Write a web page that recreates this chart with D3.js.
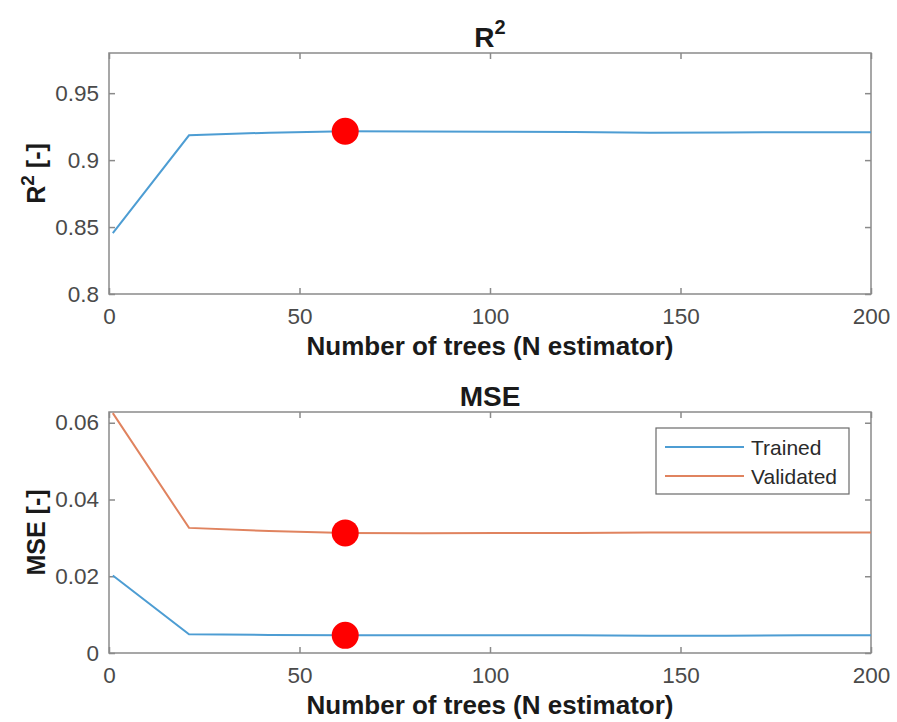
<!DOCTYPE html>
<html>
<head>
<meta charset="utf-8">
<script src="https://cdn.jsdelivr.net/npm/d3@7"></script>
<style>
  body { margin: 0; background: #fff; }
  text { font-family: "Liberation Sans", Arial, sans-serif; }
</style>
</head>
<body>
<div id="chart"></div>
<script>
// Width and height
var w = 897, h = 722;

// Data
var nTrees = [1, 21, 42, 62, 82, 102, 122, 142, 162, 182, 200];
var r2Values = [0.8455, 0.9185, 0.9205, 0.9215, 0.9213, 0.9212, 0.921, 0.9205, 0.9207, 0.9208, 0.9208];
var mseTrained = [0.0202, 0.0049, 0.0047, 0.0046, 0.0046, 0.0046, 0.0046, 0.0045, 0.0045, 0.0046, 0.0046];
var mseValidated = [0.0625, 0.0326, 0.0318, 0.0313, 0.0312, 0.0313, 0.0313, 0.0314, 0.0314, 0.0314, 0.0314];
var bestIndex = 3; // red markers at N = 62
var xTicks = [0, 50, 100, 150, 200];
var r2Ticks = [0.8, 0.85, 0.9, 0.95];
var mseTicks = [0, 0.02, 0.04, 0.06];
var legendNames = ["Trained", "Validated"];

var blue = "#4d9dd3", orange = "#e0835f";

var svg = d3.select("#chart")
            .append("svg")
            .attr("width", w)
            .attr("height", h);

var left = 109, right = 871;

// Shared x scale
var x = d3.scaleLinear().domain([0, 200]).range([left, right]);

// Panel scales
var yTop = d3.scaleLinear().domain([0.8, 0.98]).range([294, 53]);
var yBot = d3.scaleLinear().domain([0, 0.0628]).range([653, 412]);

function drawPanel(y, yTicks, yFmt, title, sup, ylabel, ysup, labelX) {
  var g = svg.append("g");
  var top = y.range()[1], bottom = y.range()[0];

  // Box
  g.append("rect")
    .attr("x", left).attr("y", top)
    .attr("width", right - left).attr("height", bottom - top)
    .attr("fill", "none").attr("stroke", "#8a8a8a").attr("stroke-width", 1.5);

  // Axes on all four sides, ticks inside
  var xb = g.append("g").attr("transform", "translate(0," + bottom + ")")
    .call(d3.axisBottom(x).tickValues(xTicks).tickSizeInner(-6).tickSizeOuter(0).tickPadding(14));
  var xt = g.append("g").attr("transform", "translate(0," + top + ")")
    .call(d3.axisTop(x).tickValues(xTicks).tickSizeInner(-6).tickSizeOuter(0).tickFormat(""));
  var yl = g.append("g").attr("transform", "translate(" + left + ",0)")
    .call(d3.axisLeft(y).tickValues(yTicks).tickFormat(yFmt).tickSizeInner(-6).tickSizeOuter(0).tickPadding(10));
  var yr = g.append("g").attr("transform", "translate(" + right + ",0)")
    .call(d3.axisRight(y).tickValues(yTicks).tickSizeInner(-6).tickSizeOuter(0).tickFormat(""));

  [xb, xt, yl, yr].forEach(function(a) {
    a.select(".domain").remove();
    a.selectAll("line").attr("stroke", "#8a8a8a").attr("stroke-width", 1.5);
    a.selectAll("text").attr("fill", "#4a4a4a").style("font-size", "22.5px");
  });

  // Title
  var t = g.append("text")
    .attr("x", (left + right) / 2).attr("y", top - 6)
    .attr("text-anchor", "middle")
    .style("font-size", "28px").style("font-weight", "bold").attr("fill", "#1a1a1a");
  t.append("tspan").text(title);
  if (sup) t.append("tspan").text(sup).attr("dy", -13).style("font-size", "20px");

  // X label
  g.append("text")
    .attr("x", (left + right) / 2).attr("y", bottom + 61)
    .attr("text-anchor", "middle")
    .style("font-size", "26px").style("font-weight", "bold").attr("fill", "#1a1a1a")
    .text("Number of trees (N estimator)");

  // Y label
  var yl2 = g.append("text")
    .attr("transform", "translate(" + labelX + "," + (top + bottom) / 2 + ") rotate(-90)")
    .attr("text-anchor", "middle")
    .style("font-size", "25px").style("font-weight", "bold").attr("fill", "#1a1a1a");
  yl2.append("tspan").text(ylabel);
  if (ysup) {
    yl2.append("tspan").text(ysup).attr("dy", -11).style("font-size", "19px");
    yl2.append("tspan").text(" [-]").attr("dy", 11);
  }
  return g;
}

function drawLine(g, y, values, color) {
  var line = d3.line()
    .x(function(d, i) { return x(nTrees[i]); })
    .y(function(d) { return y(d); });
  g.append("path").datum(values)
    .attr("fill", "none").attr("stroke", color).attr("stroke-width", 2)
    .attr("d", line);
}

function drawMarker(g, y, values) {
  g.append("circle")
    .attr("cx", x(nTrees[bestIndex])).attr("cy", y(values[bestIndex]))
    .attr("r", 13.5).attr("fill", "#ff0000");
}

// Top panel: R^2
var topPanel = drawPanel(yTop, r2Ticks, function(d) { return d3.format("")(d); }, "R", "2", "R", "2", 45);
drawLine(topPanel, yTop, r2Values, blue);
drawMarker(topPanel, yTop, r2Values);

// Bottom panel: MSE
var botPanel = drawPanel(yBot, mseTicks, function(d) { return d === 0 ? "0" : d3.format(".2f")(d); }, "MSE", null, "MSE [-]", null, 45);
drawLine(botPanel, yBot, mseTrained, blue);
drawLine(botPanel, yBot, mseValidated, orange);
drawMarker(botPanel, yBot, mseValidated);
drawMarker(botPanel, yBot, mseTrained);

// Legend
var legend = svg.append("g");
legend.append("rect")
  .attr("x", 656).attr("y", 428).attr("width", 193).attr("height", 66)
  .attr("fill", "#fff").attr("stroke", "#6a6a6a").attr("stroke-width", 1.2);
legend.selectAll(".lg-line")
  .data(legendNames)
  .enter().append("line")
  .attr("x1", 665).attr("x2", 744)
  .attr("y1", function(d, i) { return 447 + i * 29; })
  .attr("y2", function(d, i) { return 447 + i * 29; })
  .attr("stroke", function(d, i) { return i === 0 ? blue : orange; })
  .attr("stroke-width", 2);
legend.selectAll(".lg-text")
  .data(legendNames)
  .enter().append("text")
  .attr("x", 751)
  .attr("y", function(d, i) { return 455 + i * 29; })
  .style("font-size", "21px").attr("fill", "#2a2a2a")
  .text(function(d) { return d; });
</script>
</body>
</html>
